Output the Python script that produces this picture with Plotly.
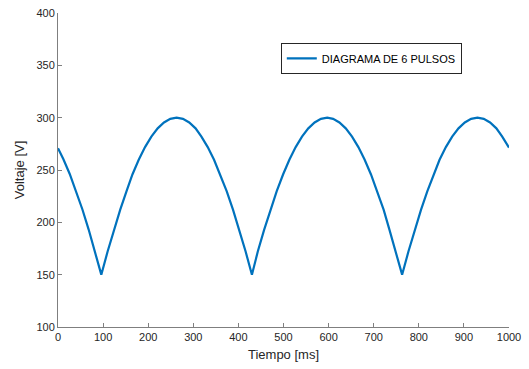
import plotly.graph_objects as go

# Sampled six-pulse rectified output voltage
tiempo_ms = [
    0, 12, 26, 40, 54, 68, 82,
    96, 110, 124, 138, 152, 165, 179, 193, 207, 221, 235, 249, 263,
    277, 291, 305, 318, 332, 346, 360, 374, 388, 402, 416,
    430, 443, 457, 471, 485, 499, 513, 527, 541, 555, 569, 583, 597,
    610, 624, 638, 652, 666, 680, 694, 708, 722, 735, 749,
    763, 777, 791, 805, 819, 833, 846, 860, 874, 888, 902, 916, 930,
    944, 958, 972, 985, 1000,
]
voltaje_v = [
    270.8, 260.3, 246.2, 230.2, 212.5, 193.1, 172.2,
    150.0, 172.1, 192.8, 212.1, 229.8, 245.7, 259.8, 271.9, 281.9, 289.8, 295.4, 298.9, 300.0,
    298.9, 295.4, 289.8, 281.9, 271.9, 259.8, 245.7, 229.8, 212.1, 192.8, 172.1,
    150.0, 172.1, 192.8, 212.1, 229.8, 245.7, 259.8, 271.9, 281.9, 289.8, 295.4, 298.9, 300.0,
    298.9, 295.4, 289.8, 281.9, 271.9, 259.8, 245.7, 229.8, 212.1, 192.8, 172.1,
    150.0, 172.1, 192.8, 212.1, 229.8, 245.7, 259.8, 271.9, 281.9, 289.8, 295.4, 298.9, 300.0,
    298.9, 295.4, 289.8, 281.9, 271.4,
]

x_ticks = [0, 100, 200, 300, 400, 500, 600, 700, 800, 900, 1000]
y_ticks = [100, 150, 200, 250, 300, 350, 400]

AXIS_COLOR = "#262626"
FONT = "Liberation Sans, Arial, sans-serif"

fig = go.Figure()
fig.add_trace(go.Scatter(
    x=tiempo_ms, y=voltaje_v, mode="lines",
    name="DIAGRAMA DE 6 PULSOS",
    line=dict(color="#0072BD", width=2.2),
))

axis_common = dict(
    showline=True, linecolor="#7f7f7f", linewidth=1,
    ticks="inside", ticklen=4, tickcolor="#7f7f7f", tickwidth=1,
    showgrid=False, zeroline=False, mirror=False, automargin=False,
    tickfont=dict(family=FONT, size=11, color=AXIS_COLOR),
)

fig.update_layout(
    width=529, height=369,
    margin=dict(l=58, r=20, t=13, b=42),
    paper_bgcolor="white", plot_bgcolor="white",
    font=dict(family=FONT, color=AXIS_COLOR),
    xaxis=dict(range=[0, 1000], tickvals=x_ticks,
               title=dict(text="Tiempo [ms]", font=dict(family=FONT, size=13, color=AXIS_COLOR), standoff=7),
               **axis_common),
    yaxis=dict(range=[100, 400], tickvals=y_ticks,
               title=dict(text="Voltaje [V]", font=dict(family=FONT, size=13, color=AXIS_COLOR), standoff=8),
               **axis_common),
    showlegend=True,
    legend=dict(
        x=0.494, y=0.905, xanchor="left", yanchor="top",
        bordercolor="#262626", borderwidth=1, bgcolor="white",
        font=dict(family=FONT, size=11, color="black"),
        tracegroupgap=0, itemwidth=30,
    ),
)

fig.write_html("out.html")
